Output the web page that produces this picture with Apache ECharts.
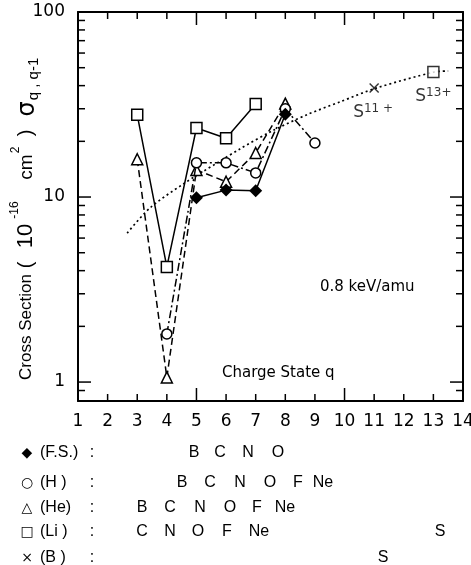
<!DOCTYPE html>
<html><head><meta charset="utf-8">
<script src="https://cdn.jsdelivr.net/npm/echarts@6/dist/echarts.min.js"></script>
<style>html,body{margin:0;padding:0;background:#fff}#c{width:471px;height:565px}</style>
</head><body><div id="c"></div>
<script>
// ---- data ----
const qMin = 1, qMax = 14;
const yMin = 0.79, yMax = 100;
const minorQ = [2,3,4,6,7,8,9,11,12,13];
const majorQ = [5,10];
const yMajor = [1,10,100];
const yMinor = [0.9,2,3,4,5,6,7,8,9,20,30,40,50,60,70,80,90];

const fsQ = [5,6,7,8],        fsV = [9.9,10.9,10.8,28];
const hQ  = [4,5,6,7,8,9],    hV  = [1.82,15.3,15.3,13.5,30,19.6];
const heQ = [3,4,5,6,7,8],    heV = [16.0,1.06,14.0,12.1,17.3,32];
const liQ = [3,4,5,6,7],      liV = [27.8,4.19,23.6,20.8,31.8];
const liSQ = [13],            liSV = [47.4];
const bQ  = [11],             bV  = [38.8];
const fitQ = [2.66,3.43,4.55,5.70,6.47,7.59,8.74,9.85,11.07,13.03,13.5];
const fitV = [6.38,8.73,11.75,15.3,18.2,22.9,27.9,32.7,38.8,47.4,48];

const rowSymbols = ['◆','○','△','□','×'];
const rowNames   = ['(F.S.)','(H )','(He)','(Li )','(B )'];
const rowElems   = [['B','C','N','O'],['B','C','N','O','F','Ne'],['B','C','N','O','F','Ne'],['C','N','O','F','Ne','S'],['S']];

const yTitleParts = ['Cross Section','(','10','-16','cm','2',')','σ','q , q-1'];

// ---- layout ----
const rowY = [453,483,508,532,558];
const rowX = [[194,220,248,278],[182,210,240,270,298,323],[142,170,200,230,257,285],[142,170,198,227,259,440],[383]];
const SHORT = 7, LONG = 13;
// per title part: [centerY, centerX, fontSize, family]
const yTitleLayout = [[327,26,17,'Liberation Sans'],[265,26,20,'Liberation Sans'],[236,26,22,'Liberation Sans'],
  [210,15,12,'Liberation Sans'],[167,27,19,'Liberation Sans'],[150,16,12,'Liberation Sans'],[133,26,20,'Liberation Sans'],
  [109,28,24,'DejaVu Sans'],[79,34,15,'Liberation Sans']];

const pair = (a,b) => a.map((v,i)=>[v,b[i]]);
const K = '#000';
const axisFont = 'DejaVu Sans';

function xAx(pos, labels){
  return {type:'value', min:qMin, max:qMax, interval:1, position:pos,
    splitLine:{show:false},
    axisLine:{show:true, onZero:false, lineStyle:{color:K,width:2}},
    axisTick:{show:false},
    axisLabel:{show:labels, color:K, fontSize:17, fontFamily:axisFont, margin:12}};
}
function yAx(pos, labels){
  return {type:'log', logBase:10, min:yMin, max:yMax, position:pos,
    splitLine:{show:false},
    axisLine:{show:true, onZero:false, lineStyle:{color:K,width:2}},
    axisTick:{show:false},
    axisLabel:{show:labels, customValues:yMajor, color:K, fontSize:17, fontFamily:axisFont, margin:13}};
}

// tick marks: [x, y, side(0 bottom,1 top,2 left,3 right), length]
const tickData = [];
minorQ.forEach(q=>{tickData.push([q,yMin,0,SHORT]); tickData.push([q,yMax,1,SHORT]);});
majorQ.forEach(q=>{tickData.push([q,yMin,0,LONG]); tickData.push([q,yMax,1,LONG]);});
yMinor.forEach(v=>{tickData.push([qMin,v,2,SHORT]); tickData.push([qMax,v,3,SHORT]);});
yMajor.forEach(v=>{tickData.push([qMin,v,2,LONG]); tickData.push([qMax,v,3,LONG]);});

const graphics = [];
function txt(x,y,text,size,fam,align){
  graphics.push({type:'text', x:x, y:y, z:10, style:{text:text, fill:K, fontSize:size, fontFamily:fam, align:align||'center', verticalAlign:'middle'}});
}
rowSymbols.forEach((s,i)=>{
  txt(27,rowY[i],s,14,'DejaVu Sans');
  txt(40,rowY[i],rowNames[i],16,'Liberation Sans','left');
  txt(92,rowY[i],':',16,'Liberation Sans');
  rowElems[i].forEach((e,j)=>txt(rowX[i][j],rowY[i],e,16,'Liberation Sans'));
});
txt(222,373,'Charge State q',15,axisFont,'left');
txt(320,287,'0.8 keV/amu',15,axisFont,'left');
// y-axis title, rotated pieces
yTitleParts.forEach((p,i)=>{
  const L = yTitleLayout[i];
  graphics.push({type:'text', x:L[1], y:L[0], rotation:Math.PI/2, z:10,
    style:{text:p, fill:K, fontSize:L[2], fontFamily:L[3], align:'center', verticalAlign:'middle'}});
});

const ptStyle = {color:'#fff', borderColor:K, borderWidth:1.5};
const sLabel = (sup, off) => ({show:true, position:'inside', offset:off,
  formatter:'{a|S}{b|'+sup+'}',
  rich:{a:{fontSize:17, fontFamily:axisFont, color:K, lineHeight:20}, b:{fontSize:12, fontFamily:axisFont, color:K, lineHeight:13, verticalAlign:'top'}}});
const xPath = 'path://M0,1L1,0L5,4L9,0L10,1L6,5L10,9L9,10L5,6L1,10L0,9L4,5Z';

const option = {
  animation:false,
  backgroundColor:'#fff',
  grid:{left:78, right:8, top:12, bottom:164, containLabel:false, outerBoundsMode:'none'},
  xAxis:[ xAx('bottom', true), xAx('top', false) ],
  yAxis:[ yAx('left', true), yAx('right', false) ],
  graphic:graphics,
  series:[
    {type:'custom', name:'ticks', data:tickData, clip:false, z:6, silent:true,
      renderItem:function(params, api){
        const p = api.coord([api.value(0), api.value(1)]);
        const side = api.value(2), len = api.value(3);
        const dx = side===2 ? len : side===3 ? -len : 0;
        const dy = side===0 ? -len : side===1 ? len : 0;
        return {type:'line', shape:{x1:p[0], y1:p[1], x2:p[0]+dx, y2:p[1]+dy},
          style:{stroke:K, lineWidth:1.5}};
      }},
    {type:'line', name:'fit', data:pair(fitQ,fitV), smooth:0.3, showSymbol:false, symbol:'none', z:1,
      lineStyle:{color:K, width:1.7, type:[2,3]}},
    {type:'line', name:'Li', data:pair(liQ,liV), symbol:'rect', symbolSize:11, z:3,
      itemStyle:ptStyle, lineStyle:{color:K, width:1.5}},
    {type:'line', name:'He', data:pair(heQ,heV), symbol:'triangle', symbolSize:11, z:3,
      itemStyle:ptStyle, lineStyle:{color:K, width:1.5, type:[7,4]}},
    {type:'line', name:'H', data:pair(hQ,hV), symbol:'circle', symbolSize:10, z:4,
      itemStyle:ptStyle, lineStyle:{color:K, width:1.5, type:[8,3,2,3]}},
    {type:'line', name:'FS', data:pair(fsQ,fsV), symbol:'diamond', symbolSize:13, z:5,
      itemStyle:{color:K}, lineStyle:{color:K, width:1.5}},
    {type:'scatter', name:'S13', data:pair(liSQ,liSV), symbol:'rect', symbolSize:11, z:5,
      itemStyle:ptStyle, label:sLabel('13+',[0,25])},
    {type:'scatter', name:'S11', data:pair(bQ,bV), symbol:xPath, symbolSize:10, z:5,
      itemStyle:{color:K}, label:sLabel('11 +',[-1,25])}
  ]
};
const chart = echarts.init(document.getElementById('c'), null, {renderer:'canvas'});
chart.setOption(option);
</script>
</body></html>
